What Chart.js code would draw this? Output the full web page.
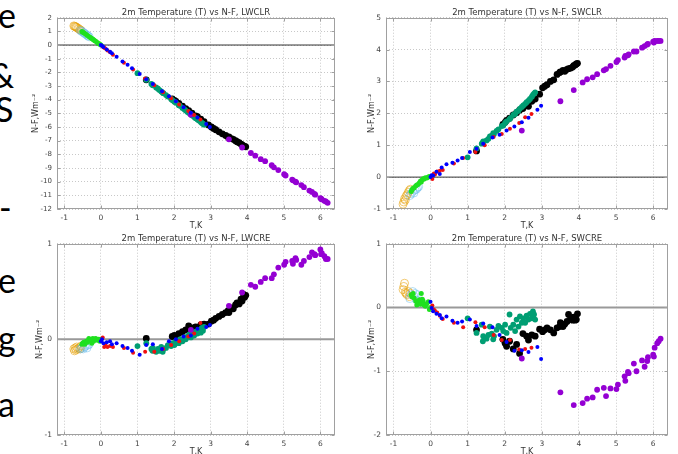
<!DOCTYPE html>
<html>
<head>
<meta charset="utf-8">
<script src="https://cdn.jsdelivr.net/npm/chart.js@4.4.1/dist/chart.umd.min.js"></script>
<style>
  html, body { margin: 0; padding: 0; background: #fff; width: 678px; height: 454px; overflow: hidden; position: relative; }
  .slide { position: absolute; font-family: Lato, sans-serif; font-size: 34px; line-height: 34px; color: #000; white-space: nowrap; }
  canvas { position: absolute; }
</style>
</head>
<body>
<!-- tail ends of the slide text that the screenshot cut off -->
<div class="slide" style="left:-2px;top:-2px">e</div>
<div class="slide" style="left:-10px;top:58px">&amp;</div>
<div class="slide" style="left:-5px;top:92px">S</div>
<div class="slide" style="left:-1px;top:190px">-</div>
<div class="slide" style="left:-2px;top:263px">e</div>
<div class="slide" style="left:-2px;top:321px">g</div>
<div class="slide" style="left:-2px;top:387px">a</div>

<canvas id="cLWCLR" width="315" height="234" style="left:25px;top:0"></canvas>
<canvas id="cSWCLR" width="318" height="234" style="left:360px;top:0"></canvas>
<canvas id="cLWCRE" width="315" height="234" style="left:25px;top:226px"></canvas>
<canvas id="cSWCRE" width="318" height="234" style="left:360px;top:226px"></canvas>

<script>
/* 2m temperature vs N-F, four components. One T array per group, one y array per component. */
const xTicks = [-1, 0, 1, 2, 3, 4, 5, 6];
const ticksLWCLR = [-12, -11, -10, -9, -8, -7, -6, -5, -4, -3, -2, -1, 0, 1, 2];
const ticksSWCLR = [-1, 0, 1, 2, 3, 4, 5];
const ticksLWCRE = [-1, 0, 1];
const ticksSWCRE = [-2, -1, 0, 1];

const orangeT     = [-0.74, -0.72, -0.70, -0.68, -0.66, -0.63, -0.60, -0.57, -0.54];
const orangeLWCLR = [1.40, 1.37, 1.35, 1.32, 1.28, 1.22, 1.17, 1.12, 1.06];
const orangeSWCLR = [-0.85, -0.78, -0.68, -0.72, -0.60, -0.55, -0.48, -0.42, -0.38];
const orangeLWCRE = [-0.10, -0.12, -0.09, -0.11, -0.08, -0.10, -0.09, -0.10, -0.07];
const orangeSWCRE = [0.28, 0.33, 0.38, 0.24, 0.22, 0.20, 0.25, 0.17, 0.22];

const lightT     = [-0.56, -0.52, -0.48, -0.45, -0.42, -0.38, -0.35, -0.32];
const lightLWCLR = [1.06, 0.99, 0.92, 0.86, 0.80, 0.72, 0.66, 0.60];
const lightSWCLR = [-0.58, -0.52, -0.45, -0.50, -0.40, -0.38, -0.33, -0.30];
const lightLWCRE = [-0.10, -0.09, -0.10, -0.08, -0.07, -0.09, -0.06, -0.05];
const lightSWCRE = [0.14, 0.20, 0.25, 0.18, 0.22, 0.12, 0.20, 0.10];

const greenT     = [-0.52, -0.50, -0.47, -0.44, -0.40, -0.37, -0.33, -0.30, -0.27, -0.25, -0.22, -0.20, -0.17, -0.14, -0.10, -0.06, -0.03, 0.00];
const greenLWCLR = [0.99, 0.95, 0.90, 0.84, 0.77, 0.70, 0.63, 0.57, 0.52, 0.48, 0.42, 0.38, 0.32, 0.27, 0.19, 0.12, 0.06, 0.00];
const greenSWCLR = [-0.45, -0.40, -0.35, -0.33, -0.28, -0.25, -0.22, -0.18, -0.12, -0.15, -0.08, -0.05, -0.06, -0.02, -0.03, 0.00, 0.02, 0.02];
const greenLWCRE = [-0.05, -0.04, -0.03, -0.05, -0.02, -0.03, 0.01, -0.01, 0.00, -0.04, 0.01, -0.02, 0.00, 0.01, -0.01, 0.00, -0.02, 0.00];
const greenSWCRE = [0.20, 0.17, 0.22, 0.15, 0.10, 0.04, 0.08, 0.12, 0.05, 0.22, 0.13, 0.10, 0.04, 0.02, 0.06, 0.09, -0.03, 0.00];

const blueT     = [0.00, 0.03, 0.07, 0.16, 0.25, 0.30, 0.43, 0.59, 0.73, 0.85, 1.06, 1.24, 1.42, 1.67, 1.86, 2.05, 2.26, 2.46, 2.64, 2.88, 2.98];
const blueLWCLR = [0.00, -0.06, -0.14, -0.32, -0.50, -0.60, -0.85, -1.20, -1.45, -1.70, -2.12, -2.50, -2.85, -3.38, -3.75, -4.12, -4.55, -4.95, -5.30, -5.78, -6.00];
const blueSWCLR = [0.00, 0.06, 0.05, 0.17, 0.10, 0.30, 0.40, 0.45, 0.52, 0.60, 0.79, 0.89, 1.05, 1.24, 1.33, 1.46, 1.59, 1.72, 1.86, 2.11, 2.24];
const blueLWCRE = [-0.02, 0.00, -0.04, -0.03, -0.02, -0.05, -0.04, -0.07, -0.09, -0.12, -0.16, -0.06, -0.05, -0.10, -0.02, 0.00, 0.03, 0.04, 0.11, 0.13, 0.15];
const blueSWCRE = [0.09, -0.01, -0.06, -0.10, -0.12, -0.17, -0.14, -0.21, -0.24, -0.22, -0.19, -0.29, -0.25, -0.31, -0.43, -0.54, -0.68, -0.67, -0.70, -0.62, -0.81];

const redT     = [0.05, 0.09, 0.12, 0.18, 0.25, 0.33, 0.63, 0.88, 1.21, 1.46, 1.70, 1.92, 2.14, 2.39, 2.55, 2.72];
const redLWCLR = [-0.12, -0.20, -0.25, -0.40, -0.52, -0.72, -1.30, -1.80, -2.45, -2.95, -3.45, -3.90, -4.35, -4.82, -5.12, -5.45];
const redSWCLR = [-0.06, 0.11, 0.08, 0.18, 0.20, 0.22, 0.43, 0.60, 0.79, 1.00, 1.26, 1.35, 1.52, 1.70, 1.88, 1.98];
const redLWCRE = [0.02, -0.08, -0.05, -0.08, -0.07, -0.08, -0.09, -0.14, -0.13, -0.13, -0.10, -0.06, -0.02, 0.03, 0.06, 0.17];
const redSWCRE = [0.03, -0.03, -0.05, -0.08, -0.13, -0.18, -0.24, -0.31, -0.23, -0.31, -0.43, -0.51, -0.51, -0.66, -0.65, -0.63];

const tealT     = [1.00, 1.24, 1.38, 1.41, 1.42, 1.51, 1.56, 1.60, 1.65, 1.69, 1.71, 1.78, 1.83, 1.92, 1.96, 2.01, 2.05, 2.13, 2.16, 2.23, 2.28, 2.32, 2.37, 2.41, 2.46, 2.50, 2.55, 2.59, 2.64, 2.68, 2.73, 2.76, 2.79, 2.82];
const tealLWCLR = [-2.06, -2.55, -2.85, -2.90, -2.95, -3.10, -3.20, -3.30, -3.40, -3.50, -3.52, -3.66, -3.77, -3.95, -4.05, -4.15, -4.22, -4.40, -4.45, -4.60, -4.70, -4.80, -4.90, -4.98, -5.08, -5.16, -5.27, -5.35, -5.45, -5.53, -5.64, -5.70, -5.76, -5.83];
const tealSWCLR = [0.62, 0.90, 1.05, 1.08, 1.12, 1.15, 1.20, 1.28, 1.30, 1.38, 1.35, 1.45, 1.50, 1.60, 1.62, 1.70, 1.75, 1.82, 1.86, 1.95, 1.98, 2.05, 2.08, 2.15, 2.20, 2.25, 2.30, 2.35, 2.40, 2.45, 2.52, 2.58, 2.62, 2.66];
const tealLWCRE = [-0.07, -0.04, -0.10, -0.12, -0.09, -0.13, -0.10, -0.12, -0.08, -0.13, -0.10, -0.09, -0.06, -0.07, -0.04, -0.06, -0.02, -0.04, 0.00, -0.02, 0.02, 0.00, 0.03, 0.05, 0.02, 0.06, 0.04, 0.08, 0.06, 0.10, 0.07, 0.12, 0.09, 0.13];
const tealSWCRE = [-0.17, -0.40, -0.27, -0.53, -0.45, -0.49, -0.43, -0.30, -0.41, -0.50, -0.45, -0.35, -0.29, -0.32, -0.37, -0.27, -0.40, -0.11, -0.32, -0.27, -0.37, -0.19, -0.30, -0.14, -0.24, -0.17, -0.24, -0.13, -0.19, -0.10, -0.17, -0.06, -0.11, -0.19];

const blackT     = [1.24, 1.95, 2.01, 2.05, 2.13, 2.23, 2.32, 2.40, 2.49, 2.59, 2.64, 2.73, 2.82, 2.94, 3.02, 3.08, 3.14, 3.23, 3.32, 3.41, 3.48, 3.50, 3.57, 3.62, 3.68, 3.72, 3.78, 3.83, 3.86, 3.90, 3.93, 3.96];
const blackLWCLR = [-2.55, -3.95, -4.05, -4.12, -4.28, -4.48, -4.65, -4.80, -4.98, -5.18, -5.25, -5.42, -5.60, -5.85, -6.00, -6.10, -6.20, -6.35, -6.50, -6.62, -6.75, -6.72, -6.85, -6.90, -7.00, -7.08, -7.15, -7.25, -7.30, -7.38, -7.42, -7.45];
const blackSWCLR = [0.82, 1.65, 1.72, 1.78, 1.85, 1.95, 2.02, 2.10, 2.15, 2.28, 2.22, 2.38, 2.45, 2.60, 2.80, 2.85, 2.90, 3.00, 3.05, 3.22, 3.28, 3.30, 3.35, 3.32, 3.38, 3.40, 3.42, 3.45, 3.50, 3.52, 3.55, 3.57];
const blackLWCRE = [0.01, 0.03, 0.04, 0.02, 0.06, 0.08, 0.10, 0.14, 0.12, 0.13, 0.12, 0.15, 0.16, 0.16, 0.19, 0.20, 0.22, 0.24, 0.26, 0.28, 0.30, 0.28, 0.33, 0.32, 0.36, 0.38, 0.37, 0.42, 0.40, 0.47, 0.44, 0.46];
const blackSWCRE = [-0.35, -0.50, -0.56, -0.61, -0.53, -0.65, -0.58, -0.72, -0.41, -0.45, -0.51, -0.43, -0.45, -0.34, -0.38, -0.35, -0.32, -0.35, -0.40, -0.32, -0.30, -0.24, -0.30, -0.26, -0.22, -0.11, -0.17, -0.20, -0.15, -0.20, -0.19, -0.10];

const purpleT     = [2.46, 3.50, 3.86, 4.10, 4.22, 4.37, 4.49, 4.67, 4.73, 4.85, 5.01, 5.05, 5.23, 5.25, 5.32, 5.34, 5.48, 5.55, 5.70, 5.77, 5.84, 5.86, 6.00, 6.02, 6.04, 6.11, 6.15, 6.20];
const purpleLWCLR = [-5.10, -6.90, -7.50, -7.90, -8.10, -8.35, -8.50, -8.80, -8.95, -9.15, -9.45, -9.55, -9.85, -9.90, -10.00, -10.05, -10.25, -10.40, -10.65, -10.75, -10.90, -10.95, -11.20, -11.25, -11.30, -11.40, -11.45, -11.55];
const purpleSWCLR = [1.46, 2.38, 2.73, 2.97, 3.07, 3.13, 3.23, 3.35, 3.39, 3.49, 3.61, 3.67, 3.75, 3.80, 3.82, 3.85, 3.94, 3.94, 4.06, 4.11, 4.16, 4.18, 4.25, 4.22, 4.27, 4.27, 4.27, 4.27];
const purpleLWCRE = [0.10, 0.35, 0.49, 0.57, 0.55, 0.60, 0.64, 0.64, 0.68, 0.75, 0.78, 0.81, 0.82, 0.79, 0.85, 0.83, 0.78, 0.82, 0.86, 0.91, 0.89, 0.88, 0.94, 0.89, 0.90, 0.87, 0.84, 0.84];
const purpleSWCRE = [-0.80, -1.33, -1.53, -1.50, -1.43, -1.41, -1.29, -1.26, -1.39, -1.27, -1.28, -1.21, -1.08, -1.15, -1.01, -1.03, -0.88, -1.00, -0.83, -0.93, -0.84, -0.78, -0.74, -0.77, -0.63, -0.56, -0.53, -0.49];

const FONT = '"DejaVu Sans", sans-serif';

// order: lower number is drawn on top
const groups = [
  { T: orangeT, y: { LWCLR: orangeLWCLR, SWCLR: orangeSWCLR, LWCRE: orangeLWCRE, SWCRE: orangeSWCRE }, color: 'rgba(230,159,0,0.55)', open: true, r: 4, order: 8 },
  { T: lightT,  y: { LWCLR: lightLWCLR,  SWCLR: lightSWCLR,  LWCRE: lightLWCRE,  SWCRE: lightSWCRE },  color: 'rgba(86,180,233,0.45)', open: true, r: 4, order: 7 },
  { T: greenT,  y: { LWCLR: greenLWCLR,  SWCLR: greenSWCLR,  LWCRE: greenLWCRE,  SWCRE: greenSWCRE },  color: '#1fe01f', r: 2.5, order: 3 },
  { T: blueT,   y: { LWCLR: blueLWCLR,   SWCLR: blueSWCLR,   LWCRE: blueLWCRE,   SWCRE: blueSWCRE },   color: '#0000ff', r: 2, order: 1 },
  { T: redT,    y: { LWCLR: redLWCLR,    SWCLR: redSWCLR,    LWCRE: redLWCRE,    SWCRE: redSWCRE },    color: '#f01010', r: 2, order: 2 },
  { T: tealT,   y: { LWCLR: tealLWCLR,   SWCLR: tealSWCLR,   LWCRE: tealLWCRE,   SWCRE: tealSWCRE },   color: '#009e73', r: 2.9, order: 5 },
  { T: blackT,  y: { LWCLR: blackLWCLR,  SWCLR: blackSWCLR,  LWCRE: blackLWCRE,  SWCRE: blackSWCRE },  color: '#000000', r: 3.4, order: 6 },
  { T: purpleT, y: { LWCLR: purpleLWCLR, SWCLR: purpleSWCLR, LWCRE: purpleLWCRE, SWCRE: purpleSWCRE }, color: '#9400d3', r: 2.9, order: 4 },
];

// border box, inward tick marks and the y=0 reference line, gnuplot style
const framePlugin = {
  id: 'frame',
  beforeDatasetsDraw(chart, args, opts) {
    const { ctx, chartArea: a, scales: { x, y } } = chart;
    ctx.save();
    const y0 = y.getPixelForValue(0);
    ctx.strokeStyle = opts.zeroColor;
    ctx.lineWidth = opts.zeroWidth;
    ctx.beginPath(); ctx.moveTo(a.left, y0); ctx.lineTo(a.right, y0); ctx.stroke();

    ctx.strokeStyle = '#a0a0a0';
    ctx.lineWidth = 1;
    const L = Math.round(a.left) + 0.5, R = Math.round(a.right) - 0.5;
    const Tp = Math.round(a.top) + 0.5, B = Math.round(a.bottom) - 0.5;
    ctx.strokeRect(L, Tp, R - L, B - Tp);
    ctx.beginPath();
    x.ticks.forEach((t) => {
      const px = Math.round(x.getPixelForValue(t.value)) + 0.5;
      ctx.moveTo(px, B); ctx.lineTo(px, B - 3);
      ctx.moveTo(px, Tp); ctx.lineTo(px, Tp + 3);
    });
    y.ticks.forEach((t) => {
      const py = Math.round(y.getPixelForValue(t.value)) + 0.5;
      ctx.moveTo(L, py); ctx.lineTo(L + 3, py);
      ctx.moveTo(R, py); ctx.lineTo(R - 3, py);
    });
    ctx.stroke();
    ctx.restore();
  },
};

const panels = [
  { key: 'LWCLR', ticks: ticksLWCLR, yWidth: 32, padRight: 2,  yTitlePad: 6,  yTick: 7,   zeroColor: '#333', zeroWidth: 1 },
  { key: 'SWCLR', ticks: ticksSWCLR, yWidth: 26, padRight: 10, yTitlePad: 7,  yTick: 7.5, zeroColor: '#333', zeroWidth: 1 },
  { key: 'LWCRE', ticks: ticksLWCRE, yWidth: 32, padRight: 3,  yTitlePad: 10, yTick: 7.5, zeroColor: '#999', zeroWidth: 2 },
  { key: 'SWCRE', ticks: ticksSWCRE, yWidth: 26, padRight: 10, yTitlePad: 7,  yTick: 7.5, zeroColor: '#999', zeroWidth: 2 },
];

panels.forEach((p) => {
  const datasets = groups.map((g) => ({
    data: g.T.map((t, i) => ({ x: t, y: g.y[p.key][i] })),
    pointRadius: g.r,
    pointBorderWidth: g.open ? 1 : 0,
    pointBorderColor: g.color,
    pointBackgroundColor: g.open ? 'rgba(0,0,0,0)' : g.color,
    order: g.order,
  }));

  new Chart(document.getElementById('c' + p.key), {
    type: 'scatter',
    data: { datasets },
    plugins: [framePlugin],
    options: {
      responsive: false,
      animation: false,
      events: [],
      layout: { padding: { left: 0, right: p.padRight, top: 0, bottom: 0 } },
      plugins: {
        legend: { display: false },
        tooltip: { enabled: false },
        title: {
          display: true, fullSize: false,
          text: '2m Temperature (T) vs N-F, ' + p.key,
          color: '#333', font: { family: FONT, size: 8.5, weight: 'normal' },
          padding: { top: 7.5, bottom: 0 },
        },
        frame: { zeroColor: p.zeroColor, zeroWidth: p.zeroWidth },
      },
      scales: {
        x: {
          type: 'linear', min: -1.2, max: 6.4,
          afterBuildTicks: (s) => { s.ticks = xTicks.map((v) => ({ value: v })); },
          afterFit: (s) => { s.height = 25; },
          grid: { color: '#c8c8c8', lineWidth: 1, drawTicks: false },
          border: { display: false, dash: [1, 2] },
          ticks: { color: '#444', font: { family: FONT, size: 7.5 }, padding: 5, maxRotation: 0, autoSkip: false },
          title: { display: true, text: 'T,K', color: '#333', font: { family: FONT, size: 8 }, padding: { top: 0, bottom: 3 } },
        },
        y: {
          type: 'linear', min: p.ticks[0], max: p.ticks[p.ticks.length - 1],
          afterBuildTicks: (s) => { s.ticks = p.ticks.map((v) => ({ value: v })); },
          afterFit: (s) => { s.width = p.yWidth; },
          grid: { color: '#c8c8c8', lineWidth: 1, drawTicks: false },
          border: { display: false, dash: [1, 2] },
          ticks: { color: '#444', font: { family: FONT, size: p.yTick }, padding: 5, autoSkip: false },
          title: { display: true, text: 'N-F,Wm⁻²', color: '#333', font: { family: FONT, size: 8 }, padding: { top: p.yTitlePad, bottom: 0 } },
        },
      },
    },
  });
});
</script>
</body>
</html>
